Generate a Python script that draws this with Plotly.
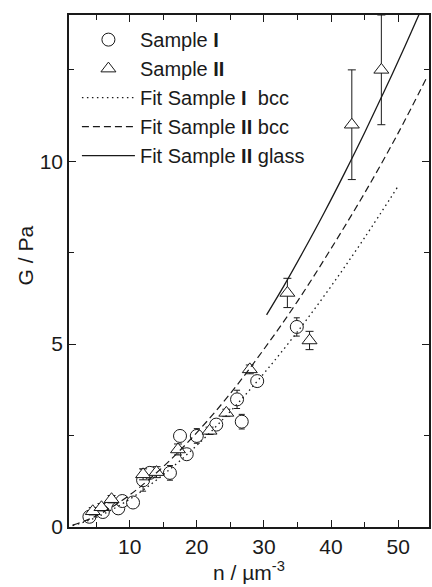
import plotly.graph_objects as go

# Sample I (circles)
s1_n = [4.0, 6.0, 8.3, 8.9, 10.5, 12.0, 13.0, 16.0, 17.5, 18.5, 20.0, 22.9, 26.0, 26.7, 29.0, 34.9]
s1_G = [0.28, 0.41, 0.51, 0.71, 0.67, 1.28, 1.48, 1.48, 2.49, 1.99, 2.49, 2.80, 3.49, 2.88, 3.99, 5.47]
s1_err = [0.10, 0.10, 0.15, 0.10, 0.12, 0.30, 0.10, 0.20, 0.10, 0.10, 0.20, 0.15, 0.25, 0.20, 0.10, 0.25]

# Sample II (triangles)
s2_n = [4.5, 5.8, 7.3, 12.0, 14.0, 17.2, 21.9, 24.4, 27.9, 33.5, 36.8, 43.1, 47.5]
s2_G = [0.43, 0.54, 0.76, 1.44, 1.50, 2.12, 2.63, 3.12, 4.31, 6.40, 5.10, 11.0, 12.5]
s2_err = [0.10, 0.10, 0.10, 0.15, 0.15, 0.15, 0.10, 0.10, 0.12, 0.40, 0.25, 1.50, 1.50]

# Fit curves
fit1_n = [1.5, 5, 10, 15, 20, 25, 30, 35, 40, 45, 50]
fit1_G = [0.04, 0.26, 0.76, 1.43, 2.23, 3.16, 4.20, 5.34, 6.58, 7.91, 9.32]

fit2_n = [1.5, 5, 10, 15, 20, 25, 30, 35, 40, 45, 50, 54.2]
fit2_G = [0.05, 0.30, 0.875, 1.65, 2.58, 3.65, 4.86, 6.17, 7.61, 9.13, 10.77, 12.27]

fit3_n = [30.4, 33, 36, 39, 42, 45, 48, 51, 53.2]
fit3_G = [5.80, 6.60, 7.58, 8.60, 9.67, 10.78, 11.94, 13.14, 14.05]

FONT = "Arial, Liberation Sans, sans-serif"
INK = "#1a1a1a"

fig = go.Figure()

fig.add_trace(go.Scatter(
    x=s1_n, y=s1_G, mode="markers", name="Sample <b>I</b>",
    marker=dict(symbol="circle", size=13, color="white", line=dict(color=INK, width=1)),
    error_y=dict(type="data", array=s1_err, color=INK, thickness=1, width=3),
    legendgroup="a"))
fig.add_trace(go.Scatter(
    x=s2_n, y=s2_G, mode="markers", name="Sample <b>II</b>",
    marker=dict(symbol="triangle-up", size=13, color="white", line=dict(color=INK, width=1)),
    error_y=dict(type="data", array=s2_err, color=INK, thickness=1, width=4),
    legendgroup="b"))
fig.add_trace(go.Scatter(
    x=fit1_n, y=fit1_G, mode="lines", name="Fit Sample <b>I</b>  bcc",
    line=dict(color=INK, width=1.3, dash="1.5px,3.5px", shape="spline"), legendgroup="c"))
fig.add_trace(go.Scatter(
    x=fit2_n, y=fit2_G, mode="lines", name="Fit Sample <b>II</b> bcc",
    line=dict(color=INK, width=1.2, dash="7px,4px", shape="spline"), legendgroup="d"))
fig.add_trace(go.Scatter(
    x=fit3_n, y=fit3_G, mode="lines", name="Fit Sample <b>II</b> glass",
    line=dict(color=INK, width=1.3, shape="spline"), legendgroup="e"))

axis_common = dict(
    showline=True, linecolor=INK, linewidth=1.6, mirror="ticks",
    ticks="inside", ticklen=7, tickwidth=1.4, tickcolor=INK,
    showgrid=False, zeroline=False,
    tickfont=dict(family=FONT, size=21, color=INK),
)

fig.update_layout(
    width=432, height=587,
    margin=dict(l=69, r=1, t=15, b=60),
    paper_bgcolor="white", plot_bgcolor="white",
    font=dict(family=FONT, size=21, color=INK),
    showlegend=True,
    legend=dict(
        x=0.022, y=0.99, xanchor="left", yanchor="top",
        bgcolor="rgba(0,0,0,0)", borderwidth=0,
        font=dict(family=FONT, size=20, color=INK),
        itemwidth=53, tracegroupgap=0, traceorder="grouped",
    ),
    xaxis=dict(
        range=[0.96, 54.6], tick0=0, dtick=10,
        minor=dict(dtick=5, ticks="inside", ticklen=5, tickcolor=INK, tickwidth=1.2),
        title=dict(text="n / µm<sup>-3</sup>", font=dict(family=FONT, size=21, color=INK), standoff=6),
        **axis_common),
    yaxis=dict(
        range=[0, 14], tick0=0, dtick=5,
        minor=dict(dtick=2.5, ticks="inside", ticklen=5, tickcolor=INK, tickwidth=1.2),
        **axis_common),
    annotations=[dict(
        text="G / Pa", textangle=-90, showarrow=False,
        xref="paper", yref="paper", x=-0.1215, y=0.531,
        xanchor="center", yanchor="middle",
        font=dict(family=FONT, size=21, color=INK))],
)

fig.write_html("out.html")
